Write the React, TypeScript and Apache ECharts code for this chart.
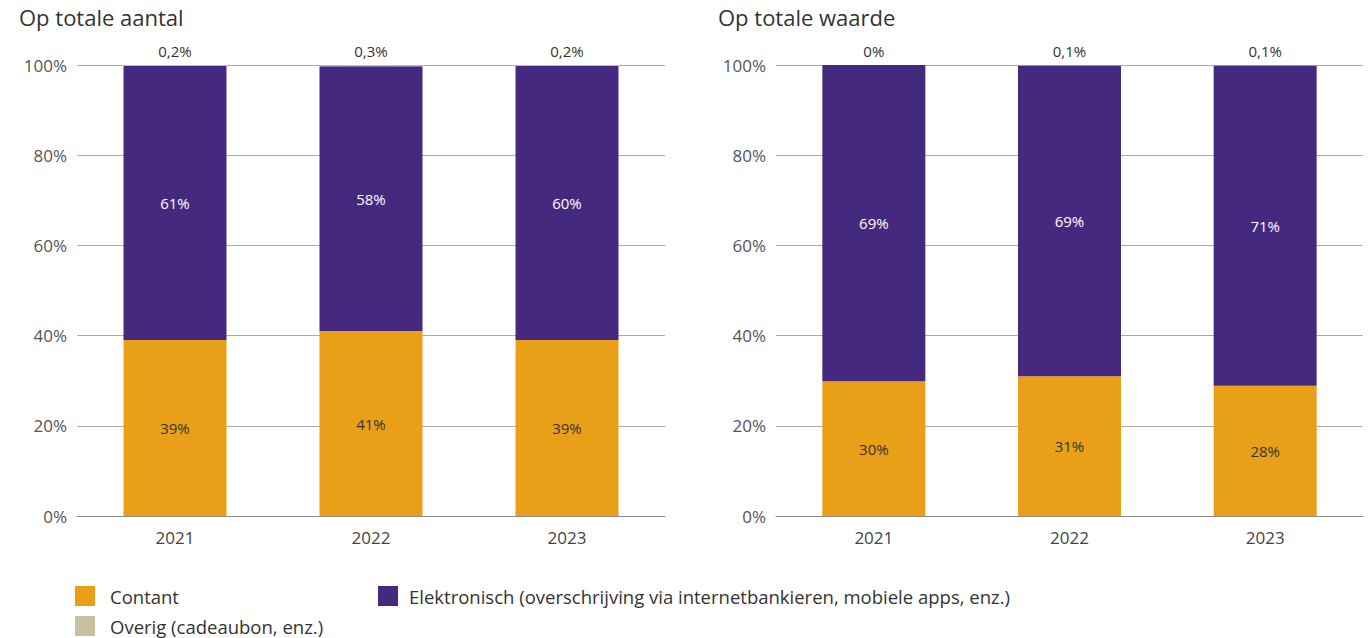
import React, { useEffect, useRef } from "react";
import * as echarts from "echarts";

const years = ["2021", "2022", "2023"];
const yTicks = [0, 20, 40, 60, 80, 100];

// Op totale aantal
const aantalContant = [39, 41, 39];
const aantalElektronisch = [60.8, 58.7, 60.8];
const aantalOverig = [0.2, 0.3, 0.2];
const aantalContantLabels = ["39%", "41%", "39%"];
const aantalElektronischLabels = ["61%", "58%", "60%"];
const aantalOverigLabels = ["0,2%", "0,3%", "0,2%"];

// Op totale waarde
const waardeContant = [29.9, 31, 28.9];
const waardeElektronisch = [70.1, 68.9, 71];
const waardeOverig = [0, 0.1, 0.1];
const waardeContantLabels = ["30%", "31%", "28%"];
const waardeElektronischLabels = ["69%", "69%", "71%"];
const waardeOverigLabels = ["0%", "0,1%", "0,1%"];

const titles = ["Op totale aantal", "Op totale waarde"];
const seriesNames = ["Contant", "Elektronisch (overschrijving via internetbankieren, mobiele apps, enz.)", "Overig (cadeaubon, enz.)"];

const FONT = "'Open Sans', 'Noto Sans', sans-serif";
const C_ORANGE = "#E99F17";
const C_PURPLE = "#45297E";
const C_BEIGE = "#C9BFA1";

export default function App() {
  const ref = useRef<HTMLDivElement>(null);
  useEffect(() => {
    document.body.style.margin = "0";
    const chart = echarts.init(ref.current!, null, { renderer: "svg" });
    const grids = [
      { left: 77, right: 706, top: 65, bottom: 122 },
      { left: 776, right: 8, top: 65, bottom: 122 },
    ];
    const xAxis = [0, 1].map((i) => ({
      type: "category",
      gridIndex: i,
      data: years,
      axisTick: { show: false },
      axisLine: { show: true, lineStyle: { color: "#8a8a8a", width: 1 } },
      axisLabel: { color: "#444", fontSize: 17, fontFamily: FONT, margin: 13 },
    }));
    const yAxis = [0, 1].map((i) => ({
      type: "value",
      gridIndex: i,
      min: 0,
      max: 100,
      interval: 20,
      axisLine: { show: false },
      axisTick: { show: false },
      splitLine: { lineStyle: { color: "#aaaaaa", width: 1 } },
      axisLabel: {
        color: "#555",
        fontSize: 17,
        fontFamily: FONT,
        margin: 10,
        padding: [6, 0, 0, 0],
        formatter: (v: number) => (yTicks.includes(v) ? v + "%" : ""),
      },
    }));
    const mk = (
      gi: number,
      contant: number[],
      elek: number[],
      overig: number[],
      cl: string[],
      el: string[],
      ol: string[]
    ) => [
      {
        name: seriesNames[0],
        type: "bar",
        stack: "s" + gi,
        xAxisIndex: gi,
        yAxisIndex: gi,
        barWidth: 103,
        data: contant,
        itemStyle: { color: C_ORANGE },
        label: {
          show: true,
          position: "inside",
          color: "#333",
          fontSize: 15,
          fontFamily: FONT,
          formatter: (p: any) => cl[p.dataIndex],
        },
      },
      {
        name: seriesNames[1],
        type: "bar",
        stack: "s" + gi,
        xAxisIndex: gi,
        yAxisIndex: gi,
        barWidth: 103,
        data: elek,
        itemStyle: { color: C_PURPLE },
        label: {
          show: true,
          position: "inside",
          color: "#fff",
          fontSize: 15,
          fontFamily: FONT,
          formatter: (p: any) => el[p.dataIndex],
        },
      },
      {
        name: seriesNames[2],
        type: "bar",
        stack: "s" + gi,
        xAxisIndex: gi,
        yAxisIndex: gi,
        barWidth: 103,
        data: overig,
        itemStyle: { color: C_BEIGE },
        label: {
          show: true,
          position: "top",
          distance: 7,
          color: "#333",
          fontSize: 15,
          fontFamily: FONT,
          formatter: (p: any) => ol[p.dataIndex],
        },
      },
    ];
    const legendBase = (pad: number) => ({
      itemWidth: 20,
      itemHeight: 20,
      itemGap: 10,
      icon: "rect",
      textStyle: { color: "#333", fontSize: 18.5, fontFamily: FONT, padding: [0, 0, 0, pad] },
      padding: 0,
    });
    chart.setOption({
      animation: false,
      title: [
        { text: titles[0], left: 19, top: 6, padding: 0, textStyle: { color: "#333", fontSize: 22, fontWeight: "normal", fontFamily: FONT } },
        { text: titles[1], left: 718, top: 6, padding: 0, textStyle: { color: "#333", fontSize: 22, fontWeight: "normal", fontFamily: FONT } },
      ],
      grid: grids,
      xAxis,
      yAxis,
      legend: [
        { ...legendBase(10), data: [seriesNames[0]], left: 75, top: 586 },
        { ...legendBase(6), data: [seriesNames[1]], left: 378, top: 586 },
        { ...legendBase(10), data: [seriesNames[2]], left: 75, top: 616 },
      ],
      series: [
        ...mk(0, aantalContant, aantalElektronisch, aantalOverig, aantalContantLabels, aantalElektronischLabels, aantalOverigLabels),
        ...mk(1, waardeContant, waardeElektronisch, waardeOverig, waardeContantLabels, waardeElektronischLabels, waardeOverigLabels),
      ],
    });
    return () => chart.dispose();
  }, []);
  return <div ref={ref} style={{ width: 1371, height: 638 }} />;
}
